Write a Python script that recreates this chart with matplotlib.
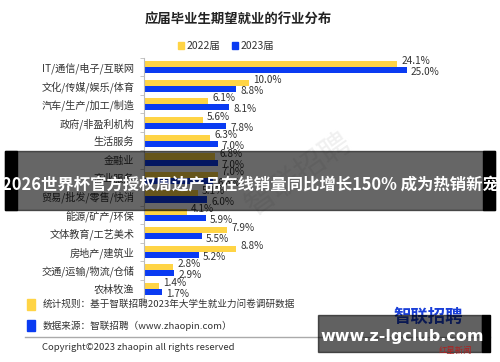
import matplotlib
matplotlib.use('Agg')
import matplotlib.pyplot as plt
from matplotlib.patches import Rectangle
import numpy as np

plt.rcParams['font.family'] = ['Noto Sans CJK SC', 'DejaVu Sans']

categories = ['IT/通信/电子/互联网', '文化/传媒/娱乐/体育', '汽车/生产/加工/制造',
              '政府/非盈利机构', '生活服务', '金融业', '商业服务',
              '贸易/批发/零售/快消', '能源/矿产/环保', '文体教育/工艺美术',
              '房地产/建筑业', '交通/运输/物流/仓储', '农林牧渔']
y2022 = [24.1, 10.0, 6.1, 5.6, 6.3, 6.8, 7.0, 5.1, 4.1, 7.9, 8.8, 2.8, 1.4]
y2023 = [25.0, 8.8, 8.1, 7.8, 7.0, 7.0, 6.6, 6.0, 5.9, 5.5, 5.2, 2.9, 1.7]
series_names = ['2022届', '2023届']

YELLOW = '#FFD445'
BLUE = '#0A3BF2'
TXT = '#333333'

W, H = 500, 362
fig = plt.figure(figsize=(W / 100, H / 100), dpi=100)


def fx(px):
    return px / W


def fy(py):
    return 1 - py / H


ax = fig.add_axes([fx(144), fy(298), fx(336), (298 - 58) / H])
pos = np.arange(len(categories))
bh = 0.33
ax.barh(pos - bh / 2, y2022, height=bh, color=YELLOW)
ax.barh(pos + bh / 2, y2023, height=bh, color=BLUE)

for i, (a, b) in enumerate(zip(y2022, y2023)):
    ax.annotate(f'{a:.1f}%', (a, i - bh / 2), xytext=(3, 2), textcoords='offset points',
                va='center', ha='left', fontsize=7.2, color=TXT)
    ax.annotate(f'{b:.1f}%', (b, i + bh / 2), xytext=(3, -1.5), textcoords='offset points',
                va='center', ha='left', fontsize=7.2, color=TXT)

ax.set_xlim(0, 32)
ax.set_ylim(len(categories) - 0.57, -0.48)
ax.set_yticks(pos)
ax.set_yticklabels(categories, fontsize=7.3, color=TXT)
ax.tick_params(axis='y', which='major', length=0, pad=7)
ax.set_yticks(np.arange(-0.5, len(categories), 1), minor=True)
ax.tick_params(axis='y', which='minor', length=3, color='#bbbbbb')
ax.set_xticks([])
for s in ['top', 'right', 'bottom']:
    ax.spines[s].set_visible(False)
ax.spines['left'].set_color('#bbbbbb')

# faint watermark
fig.text(fx(300), fy(175), '智联招聘', fontsize=22, color='#f0f0f0', rotation=35,
         ha='center', va='center', zorder=0.5)

# title and legend
fig.text(fx(238), fy(19), '应届毕业生期望就业的行业分布', fontsize=9.6,
         fontweight='bold', color='#222222', ha='center', va='center')
for x0, c, name in [(178, YELLOW, series_names[0]), (232, BLUE, series_names[1])]:
    fig.patches.append(Rectangle((fx(x0), fy(49)), fx(6), 7 / H, color=c,
                                 transform=fig.transFigure, figure=fig))
    fig.text(fx(x0 + 9), fy(45.5), name, fontsize=7.5, color=TXT, va='center', ha='left')

# footer
fig.patches.append(Rectangle((fx(27), fy(310)), fx(8), 11 / H, color=YELLOW,
                             transform=fig.transFigure, figure=fig))
fig.patches.append(Rectangle((fx(27), fy(331)), fx(8), 11 / H, color=BLUE,
                             transform=fig.transFigure, figure=fig))
fig.text(fx(43), fy(304), '统计规则：基于智联招聘2023年大学生就业力问卷调研数据',
         fontsize=6.9, color=TXT, va='center', ha='left')
fig.text(fx(43), fy(326), '数据来源：智联招聘（www.zhaopin.com）',
         fontsize=6.9, color=TXT, va='center', ha='left')
fig.add_artist(plt.Line2D([fx(25), fx(490)], [fy(337), fy(337)], color='#aaaaaa', lw=1))
fig.text(fx(42), fy(348), 'Copyright©2023 zhaopin all rights reserved',
         fontsize=6.9, color=TXT, va='center', ha='left')
fig.text(fx(428), fy(317), '智联招聘', fontsize=12.5, fontweight='bold', color='#1a3fd8',
         ha='center', va='center')

# bottom-right watermark box
fig.patches.append(Rectangle((fx(318), fy(352)), fx(164), 37 / H, color='black', alpha=0.62,
                             transform=fig.transFigure, figure=fig, zorder=5))
fig.patches.append(Rectangle((fx(482), fy(352)), fx(8), 37 / H, color='black',
                             transform=fig.transFigure, figure=fig, zorder=5))
fig.text(fx(402), fy(337), 'www.z-lgclub.com', fontsize=11.5, fontweight='bold', color='white',
         ha='center', va='center', family='DejaVu Sans', zorder=6)
fig.text(fx(455), fy(350), '红星新闻', fontsize=6, color='#b02020', ha='center', va='center',
         zorder=6)

# headline banner
fig.patches.append(Rectangle((fx(5), fy(210)), fx(490), 59 / H, color='black', alpha=0.6,
                             transform=fig.transFigure, figure=fig, zorder=5))
for x0 in (5, 483):
    fig.patches.append(Rectangle((fx(x0), fy(210)), fx(12), 59 / H, color='black',
                                 transform=fig.transFigure, figure=fig, zorder=5))
fig.text(fx(250), fy(185), '2026世界杯官方授权周边产品在线销量同比增长150% 成为热销新宠',
         fontsize=11.8, fontweight='bold', color='white', ha='center', va='center', zorder=6)

fig.savefig('out.png', dpi=100)
